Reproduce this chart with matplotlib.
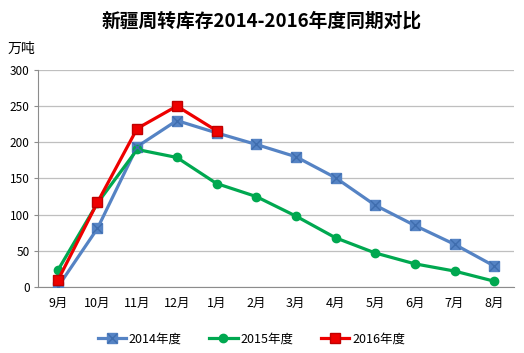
import matplotlib
matplotlib.use("Agg")
import matplotlib.pyplot as plt
from matplotlib.legend_handler import HandlerTuple

plt.rcParams['font.family'] = ['Noto Sans CJK SC', 'DejaVu Sans']

months = ["9月", "10月", "11月", "12月", "1月", "2月", "3月", "4月", "5月", "6月", "7月", "8月"]
y2014 = [0, 81, 194, 230, 213, 197, 180, 151, 113, 85, 59, 29]
y2015 = [23, 116, 190, 179, 143, 125, 98, 68, 47, 32, 22, 8]
y2016 = [9, 117, 219, 250, 216]
labels = ["2014年度", "2015年度", "2016年度"]

blue = "#5583C4"
green = "#00A850"
red = "#EE0000"

fig = plt.figure(figsize=(5.24, 3.53), dpi=100)
ax = fig.add_axes([0.0725, 0.187, 0.9085, 0.615])

x = list(range(len(months)))
l1, = ax.plot(x, y2014, color=blue, lw=2.3, marker="s", ms=7.5, zorder=3)
x1, = ax.plot(x, y2014, ls="none", marker="x", ms=7, mew=1.0, color="#3F6DAE", zorder=4)
l2, = ax.plot(x, y2015, color=green, lw=2.3, marker="o", ms=6, zorder=3)
l3, = ax.plot(x[:len(y2016)], y2016, color=red, lw=2.3, marker="s", ms=7, mec="#C00000", zorder=5)

ax.set_xlim(-0.5, 11.5)
ax.set_ylim(0, 300)
ax.set_yticks(range(0, 301, 50))
ax.set_xticks(x)
ax.set_xticklabels(months)
ax.grid(axis="y", color="#BFBFBF", lw=0.9)
ax.set_axisbelow(True)
for s in ["top", "right"]:
    ax.spines[s].set_visible(False)
ax.spines["left"].set_color("#8C8C8C")
ax.spines["bottom"].set_color("#8C8C8C")
ax.tick_params(axis="y", length=3, color="#8C8C8C", labelsize=8.5, pad=3)
ax.tick_params(axis="x", length=0, labelsize=9, pad=7)

fig.text(0.5, 0.94, "新疆周转库存2014-2016年度同期对比", ha="center", va="center",
         fontsize=13.5, fontweight="bold")
fig.text(0.015, 0.862, "万吨", ha="left", va="center", fontsize=10)

fig.legend([(l1, x1), l2, l3], labels, loc="center", bbox_to_anchor=(0.48, 0.04),
           ncol=3, frameon=False, fontsize=9, handlelength=2.25, handletextpad=0.25,
           columnspacing=2.2,
           handler_map={tuple: HandlerTuple(ndivide=1, pad=0)})

fig.savefig("out.png", dpi=100)
